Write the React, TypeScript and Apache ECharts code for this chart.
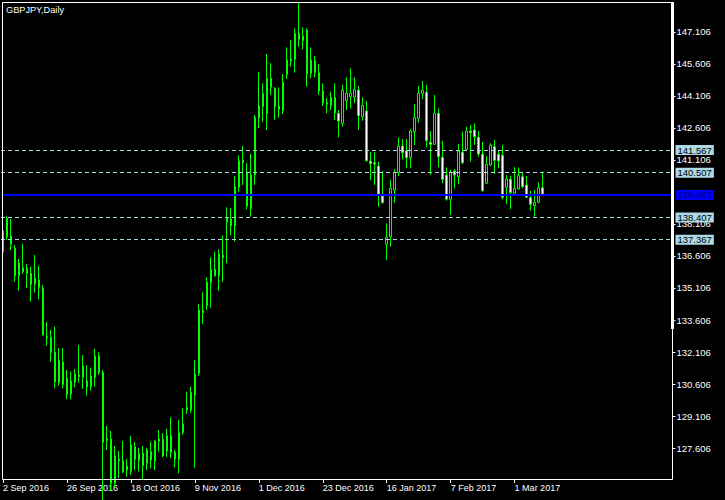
import React, { useEffect, useRef } from "react";
import * as echarts from "echarts";

const chartTitle = "GBPJPY,Daily";
const firstDate = "2016-09-02";
const totalSlots = 168; // visible bar slots incl. empty chart shift
const labelEvery = 16;
const tickLabels = [
  "2 Sep 2016", "26 Sep 2016", "18 Oct 2016", "9 Nov 2016", "1 Dec 2016",
  "23 Dec 2016", "16 Jan 2017", "7 Feb 2017", "1 Mar 2017",
];
const priceTicks = [
  127.606, 129.106, 130.606, 132.106, 133.606, 135.106, 136.606,
  138.106, 141.106, 142.606, 144.106, 145.606, 147.106,
];
const levelLines = [141.567, 140.507, 138.407, 137.367];
const bidPrice = 139.467;
const priceMin = 126.153;
const priceMax = 148.512;

// [open, close, low, high]
const sepBars = [
  [136.79, 137.778, 136.75, 137.8], [138.373, 137.511, 137.356, 138.495], [137.544, 137.154, 136.887, 138.34],
  [136.967, 135.683, 135.401, 137.122], [135.683, 136.278, 134.979, 136.465], [136.058, 135.87, 135.762, 137.169],
  [136.029, 135.795, 135.106, 136.231], [135.795, 135.279, 134.464, 136.104], [135.279, 135.561, 134.886, 136.653],
  [135.481, 135.139, 134.576, 136.137], [135.092, 132.903, 132.87, 135.247], [132.823, 132.776, 132.401, 133.512],
  [132.795, 132.092, 131.651, 133.137], [132.092, 130.714, 130.404, 133.292], [130.667, 131.731, 130.526, 132.279],
  [131.623, 130.592, 130.404, 132.294], [130.873, 130.123, 129.889, 131.262], [130.137, 130.747, 129.889, 131.183],
  [130.686, 131.075, 130.451, 131.309], [131.028, 130.948, 130.667, 132.434], [130.901, 131.45, 130.372, 131.965],
];
const octBars = [
  [130.747, 130.479, 130.058, 131.497], [130.479, 130.981, 130.292, 131.37], [130.92, 131.919, 130.479, 132.247],
  [131.919, 131.154, 131.028, 132.092], [131.154, 127.873, 123.9, 131.262], [127.948, 128.061, 127.512, 128.637],
  [128.028, 125.95, 125.6, 128.403], [125.95, 127.231, 125.8, 127.7], [127.09, 127.011, 126.2, 127.465],
  [127.011, 126.495, 126.434, 127.934], [126.762, 126.575, 126.261, 127.09], [126.495, 127.747, 126.34, 128.168],
  [127.667, 127.076, 126.575, 127.887], [127.011, 127.358, 126.495, 127.62], [127.358, 126.776, 126.153, 127.7],
  [126.889, 127.512, 126.575, 127.62], [127.433, 127.044, 126.654, 127.901], [126.997, 127.934, 126.575, 127.981],
  [128.028, 127.92, 127.433, 128.45], [128.014, 127.245, 127.17, 128.295], [127.465, 128.183, 127.198, 128.497],
];
const novBars = [
  [128.183, 127.404, 127.123, 129.045], [127.404, 127.09, 126.701, 127.512], [127.09, 128.342, 126.42, 128.918],
  [128.323, 128.731, 128.215, 129.467], [129.387, 129.514, 129.2, 130.245], [129.387, 130.217, 129.261, 130.479],
  [130.09, 131.075, 126.683, 131.731], [131.108, 134.075, 130.981, 134.356], [134.075, 133.948, 133.419, 134.904],
  [134.276, 135.373, 134.075, 135.608], [135.354, 135.983, 134.183, 136.545], [135.983, 135.683, 135.636, 136.794],
  [135.683, 136.7, 134.979, 136.92], [136.639, 136.526, 135.401, 137.576], [138.186, 138.387, 136.264, 138.889],
  [138.326, 138.026, 137.59, 138.842], [138.026, 139.854, 137.276, 140.356], [139.826, 141.073, 139.62, 141.326],
  [141.092, 140.979, 139.934, 141.762], [140.529, 138.964, 138.795, 140.951], [138.842, 140.403, 138.448, 141.387],
  [140.403, 143.108, 139.934, 143.215],
];
const decBars = [
  [143.061, 143.637, 142.592, 145.245], [143.604, 144.233, 142.901, 144.701], [143.295, 144.936, 142.512, 146.075],
  [144.936, 144.514, 144.153, 145.653], [144.467, 143.604, 142.981, 144.514], [143.637, 143.483, 143.089, 144.514],
  [143.417, 144.748, 143.262, 145.137], [145.104, 145.794, 144.903, 146.389], [145.84, 145.747, 145.479, 146.731],
  [145.826, 147.045, 145.198, 147.279], [147.045, 146.764, 146.417, 148.479], [146.698, 146.919, 146.295, 147.326],
  [147.2, 145.137, 144.542, 147.279], [145.17, 145.794, 144.936, 146.389], [145.747, 145.198, 144.983, 145.981],
  [145.198, 144.34, 144.153, 145.606], [144.34, 143.764, 143.637, 144.701], [143.792, 143.731, 143.295, 143.998],
  [143.67, 144.045, 143.45, 144.308], [144.045, 143.323, 142.981, 144.701], [143.295, 142.934, 142.17, 143.45],
  [142.826, 144.387, 142.667, 144.622],
];
const janBars = [
  [143.886, 144.233, 143.45, 144.983], [144.073, 144.233, 143.529, 145.404], [144.045, 144.42, 143.764, 144.983],
  [144.387, 143.183, 142.512, 144.575], [143.136, 143.67, 142.948, 144.045], [143.403, 141.073, 141.026, 143.872],
  [141.059, 140.933, 140.169, 141.495], [140.979, 140.919, 139.934, 141.467], [140.825, 139.498, 138.917, 141.026],
  [139.419, 139.104, 139.076, 140.59], [137.154, 137.483, 136.419, 138.139], [137.511, 139.779, 137.042, 140.169],
  [139.7, 140.529, 139.104, 140.684], [140.511, 141.762, 140.356, 142.17], [141.762, 141.448, 141.139, 142.076],
  [141.542, 141.214, 140.717, 142.09], [141.214, 142.465, 140.717, 142.559], [142.433, 143.108, 141.809, 143.731],
  [143.061, 144.233, 142.854, 144.575], [144.233, 144.387, 143.965, 144.809], [144.279, 142.011, 141.701, 144.622],
  [141.936, 141.842, 140.403, 142.465],
];
const febBars = [
  [141.842, 143.295, 141.809, 144.153], [143.295, 141.261, 140.764, 143.529], [141.233, 140.201, 140.014, 141.997],
  [140.403, 139.264, 139.198, 140.764], [139.264, 140.529, 138.528, 140.637], [140.59, 140.403, 139.779, 140.684],
  [140.323, 141.528, 139.981, 141.856], [141.467, 140.979, 140.919, 142.433], [141.608, 142.465, 141.542, 142.667],
  [142.465, 142.386, 141.026, 142.747], [142.512, 142.198, 141.809, 142.826], [142.17, 141.387, 141.261, 142.465],
  [141.373, 139.667, 139.62, 141.95], [140.014, 140.904, 139.981, 141.294], [140.872, 141.809, 140.825, 141.889],
  [141.729, 141.092, 140.45, 142.044], [141.373, 141.059, 140.717, 141.575], [141.326, 139.358, 139.264, 141.809],
  [139.817, 140.215, 139.044, 140.403], [140.201, 139.573, 138.809, 140.37],
];
const marBars = [
  [139.545, 139.779, 139.465, 140.764], [139.747, 140.37, 139.72, 140.764], [140.323, 139.854, 139.779, 140.558],
  [139.934, 139.358, 139.311, 140.356], [139.358, 139.029, 138.729, 139.653], [138.964, 139.123, 138.448, 139.7],
  [139.123, 139.808, 139.076, 140.061], [139.808, 139.467, 139.44, 140.558],
];

const ohlc = [...sepBars, ...octBars, ...novBars, ...decBars, ...janBars, ...febBars, ...marBars];

function weekdayCategories(start: string, count: number, slots: number): string[] {
  const out: string[] = [];
  const d = new Date(start + "T12:00:00Z");
  while (out.length < count) {
    const wd = d.getUTCDay();
    if (wd !== 0 && wd !== 6) out.push(d.toISOString().slice(0, 10));
    d.setUTCDate(d.getUTCDate() + 1);
  }
  while (out.length < slots) out.push("");
  return out;
}

const FONT = "'Liberation Sans', Arial, sans-serif";

export default function App() {
  const ref = useRef<HTMLDivElement>(null);
  useEffect(() => {
    document.body.style.margin = "0";
    document.body.style.background = "#000";
    if (!ref.current) return;
    const chart = echarts.init(ref.current, undefined, { renderer: "svg" });
    const categories = weekdayCategories(firstDate, ohlc.length, totalSlots);
    const showIdx = (i: number) => i % labelEvery === 0 && i < ohlc.length;
    const labelBase = {
      show: true,
      position: "end",
      distance: 3,
      fontSize: 9.5,
      fontFamily: FONT,
      lineHeight: 10,
      padding: [0, 2, 0, 2],
    };
    const markData: any[] = levelLines.map((v) => ({
      yAxis: v,
      lineStyle: { color: "#add8e6", type: [4, 3], width: 1 },
      label: { ...labelBase, formatter: v.toFixed(3), color: "#000", backgroundColor: "#add8e6" },
    }));
    markData.push({
      yAxis: bidPrice,
      lineStyle: { color: "#0000ff", type: "solid", width: 2 },
      label: { ...labelBase, formatter: bidPrice.toFixed(3), color: "#000070", backgroundColor: "#0000ff" },
    });
    const option: any = {
      animation: false,
      backgroundColor: "#000",
      grid: { left: 0.5, right: 52.5, top: 2, bottom: 21 },
      xAxis: {
        type: "category",
        data: categories,
        boundaryGap: true,
        axisLine: { show: false },
        splitLine: { show: false },
        axisTick: {
          show: true,
          alignWithLabel: true,
          interval: (i: number) => showIdx(i),
          length: 4,
          lineStyle: { color: "#fff", width: 1 },
        },
        axisLabel: {
          show: true,
          interval: (i: number) => showIdx(i),
          formatter: (_v: string, i: number) => (showIdx(i) ? tickLabels[i / labelEvery] ?? "" : ""),
          color: "#fff",
          fontFamily: FONT,
          fontSize: 9,
          align: "left",
          margin: 4,
        },
      },
      yAxis: {
        type: "value",
        position: "right",
        min: priceMin,
        max: priceMax,
        axisLine: { show: false },
        splitLine: { show: false },
        axisTick: { show: true, customValues: priceTicks, length: 3, lineStyle: { color: "#fff" } },
        axisLabel: {
          customValues: priceTicks,
          formatter: (v: number) => v.toFixed(3),
          color: "#fff",
          fontFamily: FONT,
          fontSize: 9.5,
          lineHeight: 10,
          margin: 4,
        },
      },
      series: [
        {
          type: "candlestick",
          data: ohlc,
          barWidth: 2,
          itemStyle: {
            color: "#000",
            color0: "#fff",
            borderColor: "#00ff00",
            borderColor0: "#00ff00",
            borderColorDoji: "#00ff00",
            borderWidth: 1,
          },
          markLine: {
            silent: true,
            symbol: ["none", "none"],
            animation: false,
            data: markData,
          },
        },
      ],
      graphic: [
        { type: "line", z: 100, shape: { x1: 2.5, y1: 2.5, x2: 673, y2: 2.5 }, style: { stroke: "#fff", lineWidth: 1 } },
        { type: "line", z: 100, shape: { x1: 2.5, y1: 2.5, x2: 2.5, y2: 479.5 }, style: { stroke: "#fff", lineWidth: 1 } },
        { type: "line", z: 100, shape: { x1: 2.5, y1: 479.5, x2: 672.5, y2: 479.5 }, style: { stroke: "#fff", lineWidth: 1 } },
        { type: "line", z: 100, shape: { x1: 672.5, y1: 2.5, x2: 672.5, y2: 479.5 }, style: { stroke: "#fff", lineWidth: 1 } },
        { type: "rect", z: 100, shape: { x: 671, y: 2, width: 3, height: 327 }, style: { fill: "#fff" } },
        {
          type: "text",
          z: 100,
          x: 6,
          y: 5,
          style: { text: chartTitle, fill: "#fff", fontSize: 9.2, fontFamily: FONT, verticalAlign: "top" },
        },
      ],
    };
    chart.setOption(option);
    return () => chart.dispose();
  }, []);
  return <div ref={ref} style={{ width: 725, height: 500 }} />;
}
